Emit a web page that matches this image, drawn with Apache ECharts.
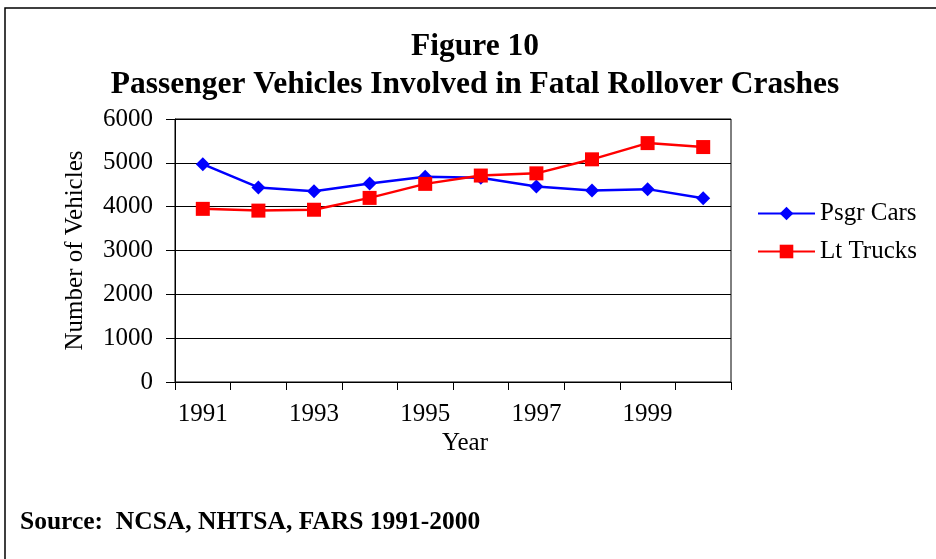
<!DOCTYPE html>
<html>
<head>
<meta charset="utf-8">
<script src="https://cdn.jsdelivr.net/npm/echarts@6/dist/echarts.min.js"></script>
<style>
  html, body { margin: 0; padding: 0; background: #fff; }
  #chart { width: 936px; height: 559px; }
</style>
</head>
<body>
<div id="chart"></div>
<script>
// 数据
const years = ['1991', '1992', '1993', '1994', '1995', '1996', '1997', '1998', '1999', '2000'];
const psgrCars = [4970, 4440, 4350, 4530, 4680, 4660, 4460, 4370, 4400, 4190];
const ltTrucks = [3950, 3910, 3930, 4200, 4520, 4710, 4760, 5080, 5450, 5360];

const serif = '"Liberation Serif", "Times New Roman", serif';

const chart = echarts.init(document.getElementById('chart'), null, { renderer: 'canvas' });

chart.setOption({
    backgroundColor: '#fff',
    animation: false,
    title: [
        {
            text: 'Figure 10\nPassenger Vehicles Involved in Fatal Rollover Crashes',
            left: 470,
            top: 23,
            textAlign: 'center',
            textStyle: { fontFamily: serif, fontWeight: 'bold', fontSize: 31.5, lineHeight: 38, color: '#000' }
        },
        {
            text: 'Source:  NCSA, NHTSA, FARS 1991-2000',
            left: 20,
            top: 509,
            padding: 0,
            textStyle: { fontFamily: serif, fontWeight: 'bold', fontSize: 25.5, color: '#000' }
        }
    ],
    // 外框
    graphic: [{
        type: 'rect',
        shape: { x: 5, y: 8, width: 1000, height: 1000 },
        style: { fill: 'none', stroke: '#000', lineWidth: 1.5 }
    }],
    legend: {
        orient: 'vertical',
        left: 752,
        top: 196,
        itemWidth: 57,
        itemHeight: 17,
        itemGap: 13,
        textStyle: { fontFamily: serif, fontSize: 25, color: '#000' },
        data: ['Psgr Cars', 'Lt Trucks']
    },
    grid: {
        left: 175,
        right: 205,
        top: 119,
        bottom: 177,
        show: true,
        borderColor: '#000',
        borderWidth: 1
    },
    xAxis: {
        type: 'category',
        data: years,
        boundaryGap: true,
        name: 'Year',
        nameLocation: 'middle',
        nameGap: 49,
        nameTextStyle: { fontFamily: serif, fontSize: 25, color: '#000', padding: [0, 0, 0, 24] },
        axisLine: { lineStyle: { color: '#000', width: 1 } },
        axisTick: { show: true, interval: 0, length: 8, lineStyle: { color: '#000' } },
        axisLabel: { interval: 1, margin: 20, fontFamily: serif, fontSize: 25, color: '#000' }
    },
    yAxis: {
        type: 'value',
        min: 0,
        max: 6000,
        interval: 1000,
        name: 'Number of Vehicles',
        nameLocation: 'middle',
        nameGap: 87,
        nameRotate: 90,
        nameTextStyle: { fontFamily: serif, fontSize: 25, color: '#000' },
        axisLine: { show: true, lineStyle: { color: '#000', width: 1 } },
        axisTick: { show: true, length: 9, lineStyle: { color: '#000' } },
        axisLabel: {
            margin: 22,
            fontFamily: serif,
            fontSize: 25,
            color: '#000',
            formatter: (v) => String(v)
        },
        splitLine: { show: true, lineStyle: { color: '#000', width: 1 } }
    },
    series: [
        {
            name: 'Psgr Cars',
            type: 'line',
            data: psgrCars,
            symbol: 'diamond',
            symbolSize: 14,
            color: '#0000ff',
            lineStyle: { width: 2.5, color: '#0000ff' },
            itemStyle: { color: '#0000ff' }
        },
        {
            name: 'Lt Trucks',
            type: 'line',
            data: ltTrucks,
            symbol: 'rect',
            symbolSize: 14,
            color: '#ff0000',
            lineStyle: { width: 2.5, color: '#ff0000' },
            itemStyle: { color: '#ff0000' }
        }
    ]
});
</script>
</body>
</html>
